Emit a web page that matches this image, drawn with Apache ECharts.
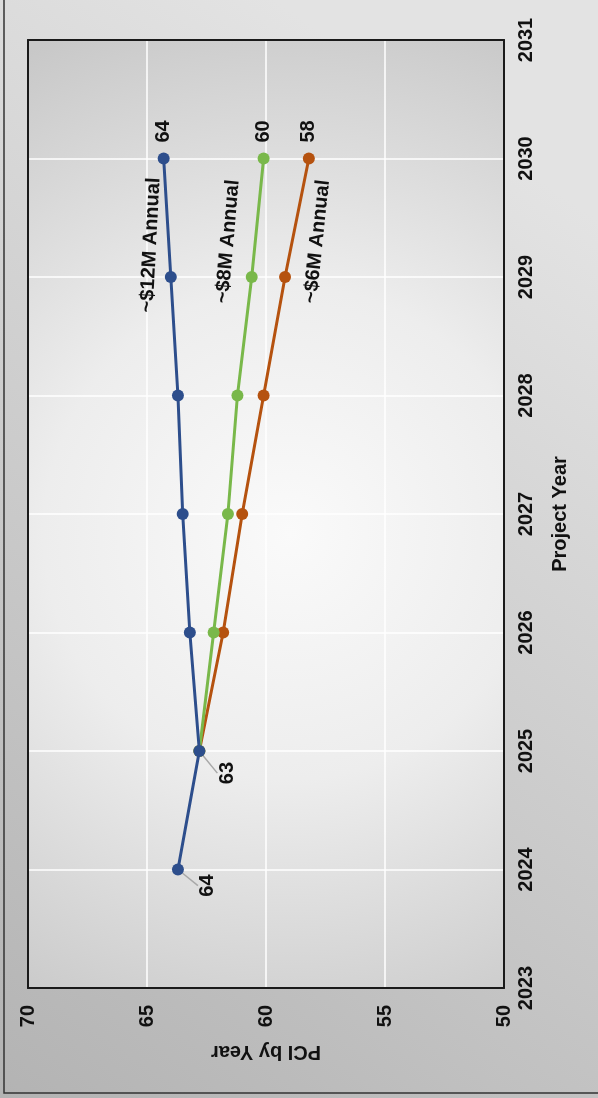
<!DOCTYPE html>
<html><head><meta charset="utf-8">
<script src="https://cdn.jsdelivr.net/npm/echarts@6/dist/echarts.min.js"></script>
<style>html,body{margin:0;padding:0;width:598px;height:1098px;overflow:hidden}#c{width:598px;height:1098px}</style>
</head><body><div id="c"></div><script>
// ---- data ----
const blueYears = [2024, 2025, 2026, 2027, 2028, 2029, 2030];
const blueValues = [63.7, 62.8, 63.2, 63.5, 63.7, 64.0, 64.3];
const greenYears = [2025, 2026, 2027, 2028, 2029, 2030];
const greenValues = [62.8, 62.2, 61.6, 61.2, 60.6, 60.1];
const orangeYears = [2025, 2026, 2027, 2028, 2029, 2030];
const orangeValues = [62.8, 61.8, 61.0, 60.1, 59.2, 58.2];
const seriesNames = ['~$12M Annual', '~$8M Annual', '~$6M Annual'];
const yearTicks = {min: 2023, max: 2031, interval: 1};
const pciTicks = {min: 50, max: 70, interval: 5};
// annotation anchors for series-name text (in data space)
const nameNotes = [
  {value: 64.85, year: 2029.27, rotate: 87},
  {value: 61.6, year: 2029.3, rotate: 85},
  {value: 57.85, year: 2029.3, rotate: 84}
];

const FONT = 'Liberation Sans';
const colors = ['#2d4e8c', '#79b84a', '#b5520f'];

function pts(vals, yrs) { return vals.map((v, i) => [v, yrs[i]]); }

const endLabel = {
  show: true, rotate: 90, position: 'top', distance: 10,
  align: 'left', verticalAlign: 'middle',
  fontFamily: FONT, fontWeight: 'bold', fontSize: 20, color: '#111',
  formatter: p => Math.round(p.value[0])
};

function buildData(vals, yrs, extraLabels) {
  return pts(vals, yrs).map((d, i) => {
    const item = {value: d, label: {show: false}, labelLine: {show: false}};
    if (i === vals.length - 1) item.label = endLabel;
    if (extraLabels && extraLabels.includes(i)) {
      item.label = {
        show: true, rotate: 90, position: 'bottom', distance: 5,
        align: 'right', verticalAlign: 'middle',
        fontFamily: FONT, fontWeight: 'bold', fontSize: 20, color: '#111',
        formatter: p => Math.round(p.value[0])
      };
      item.labelLine = {show: true, lineStyle: {color: '#a8a8a8', width: 1.5}};
    }
    return item;
  });
}

function notePoint(idx) {
  const n = nameNotes[idx];
  return {
    symbol: 'circle', symbolSize: 1,
    itemStyle: {color: 'rgba(0,0,0,0)'},
    label: {show: true, position: 'inside', rotate: n.rotate,
      fontFamily: FONT, fontWeight: 'bold', fontSize: 20, color: '#111',
      formatter: seriesNames[idx]},
    data: [{coord: [n.value, n.year]}]
  };
}

const labelStyle = {fontFamily: FONT, fontWeight: 'bold', fontSize: 20, color: '#111'};
const frameLine = {show: true, onZero: false, lineStyle: {color: '#1a1a1a', width: 2}};

const chart = echarts.init(document.getElementById('c'));
chart.setOption({
  backgroundColor: {type: 'linear', x: 1, y: 0.2, x2: 0, y2: 1,
    colorStops: [{offset: 0, color: '#e3e3e3'}, {offset: 1, color: '#b3b3b3'}]},
  animation: false,
  graphic: [{type: 'rect', shape: {x: 4, y: -10, width: 700, height: 1103},
    style: {fill: 'none', stroke: '#333', lineWidth: 1.5}, silent: true}],
  grid: {left: 28, right: 94, top: 40, bottom: 110, show: true,
    borderWidth: 0,
    backgroundColor: {type: 'radial', x: 0.55, y: 0.52, r: 1.15,
      colorStops: [{offset: 0, color: '#fafafa'}, {offset: 0.45, color: '#ededed'}, {offset: 1, color: '#c8c8c8'}]}},
  xAxis: [{type: 'value', position: 'bottom', inverse: true,
    min: pciTicks.min, max: pciTicks.max, interval: pciTicks.interval,
    name: 'PCI by Year', nameLocation: 'middle', nameRotate: 180, nameGap: 54,
    nameTextStyle: labelStyle,
    axisLine: frameLine, axisTick: {show: false},
    axisLabel: Object.assign({rotate: 90, margin: 17}, labelStyle),
    splitLine: {show: true, lineStyle: {color: '#ffffff', width: 1.5}}},
    {type: 'value', position: 'top', inverse: true,
    min: pciTicks.min, max: pciTicks.max, interval: pciTicks.interval,
    axisLine: frameLine, axisTick: {show: false}, axisLabel: {show: false}, splitLine: {show: false}}],
  yAxis: [{type: 'value', position: 'right',
    min: yearTicks.min, max: yearTicks.max, interval: yearTicks.interval,
    name: 'Project Year', nameLocation: 'middle', nameRotate: 90, nameGap: 46,
    nameTextStyle: labelStyle,
    axisLine: frameLine, axisTick: {show: false},
    axisLabel: Object.assign({rotate: 90, margin: 12, formatter: v => String(v)}, labelStyle),
    splitLine: {show: true, lineStyle: {color: '#ffffff', width: 1.5}}},
    {type: 'value', position: 'left',
    min: yearTicks.min, max: yearTicks.max, interval: yearTicks.interval,
    axisLine: frameLine, axisTick: {show: false}, axisLabel: {show: false}, splitLine: {show: false}}],
  series: [
    {name: seriesNames[2], type: 'line', data: buildData(orangeValues, orangeYears),
      symbol: 'circle', symbolSize: 12, lineStyle: {color: colors[2], width: 3},
      itemStyle: {color: colors[2]}, z: 2, markPoint: notePoint(2)},
    {name: seriesNames[1], type: 'line', data: buildData(greenValues, greenYears),
      symbol: 'circle', symbolSize: 12, lineStyle: {color: colors[1], width: 3},
      itemStyle: {color: colors[1]}, z: 3, markPoint: notePoint(1)},
    {name: seriesNames[0], type: 'line', data: buildData(blueValues, blueYears, [0, 1]),
      symbol: 'circle', symbolSize: 12, lineStyle: {color: colors[0], width: 3},
      itemStyle: {color: colors[0]}, z: 4, markPoint: notePoint(0),
      // dx/dy act in the rotated label frame: local dx = -screen dy, local dy = screen dx
      labelLayout: function (p) {
        if (p.dataIndex === 0) return {dx: 6, dy: 30};
        if (p.dataIndex === 1) return {dx: 0, dy: 28};
        return {};
      }}
  ]
});
</script></body></html>
